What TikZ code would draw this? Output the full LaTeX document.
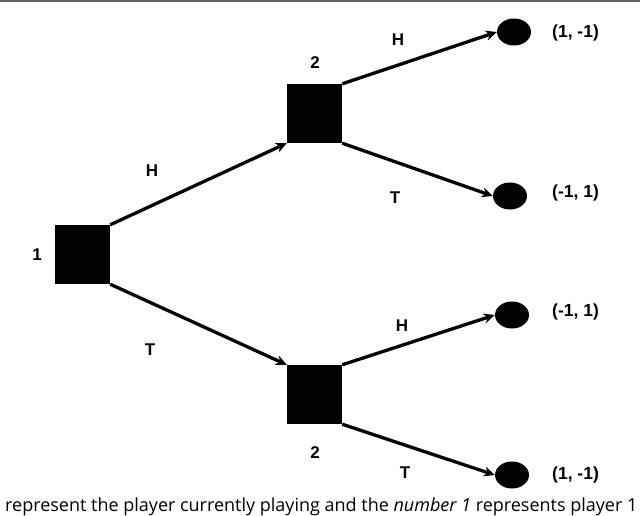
\documentclass[tikz,border=0pt]{standalone}
\usepackage{fontspec}
\setmainfont{Liberation Sans}
\newfontfamily\capfont{Open Sans}
\usetikzlibrary{arrows.meta,shapes.geometric}
\begin{document}
\begin{tikzpicture}[x=1pt,y=-1pt,
  sq/.style={fill=black,draw=none,minimum width=55pt,minimum height=59pt,inner sep=0pt},
  leaf/.style={ellipse,fill=black,draw=none,minimum width=34pt,minimum height=27pt,inner sep=0pt},
  edge/.style={line width=3.3pt,-{Stealth[length=11pt,width=10pt]}},
  lbl/.style={font=\fontsize{17}{19}\selectfont\bfseries},
  pay/.style={font=\fontsize{17.5}{20}\selectfont\bfseries,anchor=west,inner sep=0pt}]
\useasboundingbox (0,0) rectangle (640,515);
\fill[white] (0,0) rectangle (640,515);
\draw[gray!80!black,line width=1.5pt] (0,1) -- (640,1);
\node[sq] (r) at (82.5,254.5) {};
\node[sq] (u) at (314.5,113.5) {};
\node[sq] (d) at (314.5,394.5) {};
\node[leaf] (l1) at (514,32) {};
\node[leaf] (l2) at (510,196) {};
\node[leaf] (l3) at (512,315) {};
\node[leaf] (l4) at (512,475) {};
\node[lbl] (n1) at (37,255) {1};
\node[lbl] (n2) at (315,63) {2};
\node[lbl] (n3) at (315,453) {2};
\draw[edge] (r.north east) -- (u.south west);
\draw[edge] (r.south east) -- (d.north west);
\draw[edge] (u.north east) -- (l1.west);
\draw[edge] (u.south east) -- (l2.west);
\draw[edge] (d.north east) -- (l3.west);
\draw[edge] (d.south east) -- (l4.west);
\node[lbl] (h1) at (152,171) {H};
\node[lbl] (t1) at (150,350) {T};
\node[lbl] (h2) at (398,40) {H};
\node[lbl] (t2) at (395,198) {T};
\node[lbl] (h3) at (402,326) {H};
\node[lbl] (t3) at (405,473) {T};
\node[pay] (p1) at (552,33) {(1, -1)};
\node[pay] (p2) at (552,193) {(-1, 1)};
\node[pay] (p3) at (552,312) {(-1, 1)};
\node[pay] (p4) at (552,475) {(1, -1)};
\node[anchor=base west,inner sep=0pt,font=\capfont\fontsize{18}{20}\selectfont] (cap) at (5,511) {represent the player currently playing and the \textit{number 1} represents player 1};
\end{tikzpicture}
\end{document}
